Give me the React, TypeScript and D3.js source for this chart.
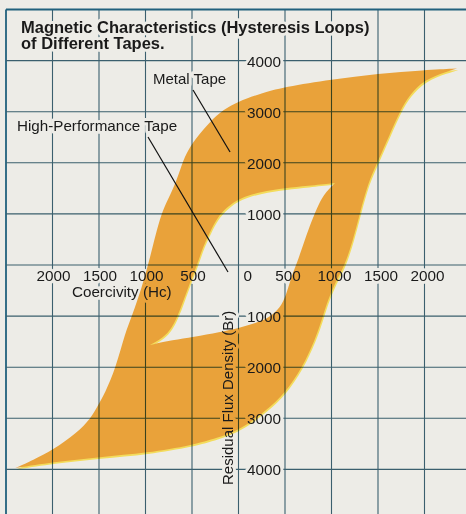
import React from "react";
import * as d3 from "d3";

// Hysteresis loops: [Hc, Br]
// metal tape (outer loop), upper branch from +saturation down to -saturation
const metalDown: [number, number][] = [
  [2350, 3845], [2000, 3815], [1500, 3745], [1000, 3630], [500, 3490],
  [200, 3335], [0, 3200], [-166, 3040], [-306, 2805], [-445, 2510],
  [-520, 2315], [-595, 2060], [-660, 1670], [-760, 1275], [-830, 1000],
  [-890, 600], [-965, 50], [-1038, -430], [-1145, -998], [-1220, -1331],
  [-1320, -2016], [-1435, -2505], [-1521, -2779], [-1586, -2994],
  [-1737, -3288], [-1995, -3620], [-2210, -3816], [-2400, -3973],
];
// metal tape, lower branch back up to +saturation
const metalUp: [number, number][] = [
  [-2400, -3973], [-1995, -3855], [-1489, -3757], [-984, -3679], [-489, -3522],
  [-231, -3386], [16, -3229], [306, -2838], [500, -2505], [683, -2016],
  [823, -1468], [909, -998], [962, -685], [1038, -352], [1145, 0],
  [1231, 489], [1306, 1018], [1392, 1605], [1497, 2020], [1625, 2549],
  [1733, 3000], [1840, 3333], [2001, 3627], [2237, 3784], [2350, 3845],
];
// high-performance tape (inner loop, the hole)
const hpDown: [number, number][] = [
  [1038, 1605], [737, 1546], [511, 1507], [231, 1429], [16, 1311],
  [-124, 1135], [-231, 920], [-306, 646], [-382, 352], [-435, 59],
  [-489, -196], [-543, -450], [-597, -724], [-651, -978], [-715, -1233],
  [-812, -1429], [-952, -1566],
];
const hpUp: [number, number][] = [
  [-952, -1566], [-704, -1468], [-489, -1409], [-199, -1311], [5, -1233],
  [231, -1115], [371, -978], [468, -783], [522, -528], [575, -196],
  [629, 39], [694, 391], [769, 783], [844, 1115], [909, 1370], [1038, 1605],
];

const xTicksLeft = [-2000, -1500, -1000, -500];
const xTicksRight = [0, 500, 1000, 1500, 2000];
const yTicks = [4000, 3000, 2000, 1000, -1000, -2000, -3000, -4000];

const W = 466;
const H = 514;
const FONT = "'Liberation Sans', Arial, Helvetica, sans-serif";
const PAPER = "#edece7";
const ORANGE = "#e9a23a";
const GRID = "#3f6779";

type Label = {
  text: string;
  x: number;
  y: number;
  anchor?: "start" | "middle" | "end";
  size?: number;
  bold?: boolean;
  rotate?: number;
};

export default function App() {
  const x = d3.scaleLinear().domain([-2500, 2500]).range([6, 471]);
  const y = d3.scaleLinear().domain([-5000, 5000]).range([520.5, 9.5]);

  const line = d3
    .line<[number, number]>()
    .x((d) => x(d[0]))
    .y((d) => y(d[1]))
    .curve(d3.curveBasis);

  const loop = (down: [number, number][], up: [number, number][]) =>
    (line(down) || "") + (line(up) || "").replace(/^M/, "L") + "Z";

  const shape = loop(metalDown, metalUp) + loop(hpDown, hpUp);

  const gridXs = d3.range(-2500, 2501, 500);
  const gridYs = d3.range(-5000, 5001, 1000);

  const labels: Label[] = [
    { text: "Magnetic Characteristics (Hysteresis Loops)", x: 21, y: 32.5, size: 16.5, bold: true },
    { text: "of Different Tapes.", x: 21, y: 49, size: 16.5, bold: true },
    { text: "Metal Tape", x: 153, y: 84, size: 15 },
    { text: "High-Performance Tape", x: 17, y: 131, size: 15.2 },
    { text: "Coercivity (Hc)", x: 72, y: 297, size: 15.2 },
    { text: "Residual Flux Density (Br)", x: 233, y: 485, size: 15, rotate: -90 },
    ...xTicksLeft.map((v) => ({
      text: String(Math.abs(v)),
      x: x(v) + 1,
      y: y(0) + 16,
      anchor: "middle" as const,
      size: 15.3,
    })),
    ...xTicksRight.map((v) => ({
      text: String(v),
      x: v === 0 ? x(v) + 5 : x(v) + 3,
      y: y(0) + 16,
      anchor: (v === 0 ? "start" : "middle") as "start" | "middle",
      size: 15.3,
    })),
    ...yTicks.map((v) => ({
      text: String(Math.abs(v)),
      x: x(0) + 8.5,
      y: y(v) + 6,
      size: 15.3,
    })),
  ];

  const renderLabel = (l: Label, i: number, knock: boolean) => (
    <text
      key={i}
      x={l.rotate ? 0 : l.x}
      y={l.rotate ? 0 : l.y}
      transform={l.rotate ? `translate(${l.x},${l.y}) rotate(${l.rotate})` : undefined}
      textAnchor={l.anchor || "start"}
      fontFamily={FONT}
      fontSize={l.size || 15}
      fontWeight={l.bold ? "bold" : "normal"}
      fill={knock ? "black" : "#1a1a1a"}
      stroke={knock ? "black" : "none"}
      strokeWidth={knock ? 6 : 0}
      strokeLinejoin="round"
    >
      {l.text}
    </text>
  );

  // leader lines, ends given in chart units
  const leaders: [number, number, number, number][] = [
    [-489, 3425, -91, 2211],
    [-973, 2505, -113, -137],
  ];

  return (
    <svg
      width={W}
      height={H}
      style={{ position: "absolute", left: 0, top: 0, background: PAPER }}
    >
      <defs>
        <mask id="gaps" maskUnits="userSpaceOnUse" x={0} y={0} width={W} height={H}>
          <rect width={W} height={H} fill="white" />
          {labels.map((l, i) => renderLabel(l, i, true))}
        </mask>
      </defs>
      <rect width={W} height={H} fill={PAPER} />

      {/* tape loops: outer loop minus inner loop, yellow plate slightly off register */}
      <path d={shape} fill="#f3dc5c" fillRule="evenodd" transform="translate(1,1.6)" />
      <path d={shape} fill={ORANGE} fillRule="evenodd" />

      <g mask="url(#gaps)" style={{ mixBlendMode: "multiply" }}>
        {gridXs.map((v) => (
          <line
            key={"gx" + v}
            x1={x(v)}
            x2={x(v)}
            y1={y(5000)}
            y2={H}
            stroke={v === -2500 ? "#23698a" : GRID}
            strokeWidth={v === -2500 ? 1.8 : 1.1}
          />
        ))}
        {gridYs.map((v) => (
          <line
            key={"gy" + v}
            x1={x(-2500)}
            x2={W}
            y1={y(v)}
            y2={y(v)}
            stroke={v === 5000 ? "#23698a" : GRID}
            strokeWidth={v === 5000 ? 1.8 : 1.1}
          />
        ))}
      </g>

      {leaders.map(([a, b, c, d], i) => (
        <line key={"ld" + i} x1={x(a)} y1={y(b)} x2={x(c)} y2={y(d)} stroke="#111" strokeWidth={1.2} />
      ))}

      {labels.map((l, i) => renderLabel(l, i, false))}
    </svg>
  );
}
